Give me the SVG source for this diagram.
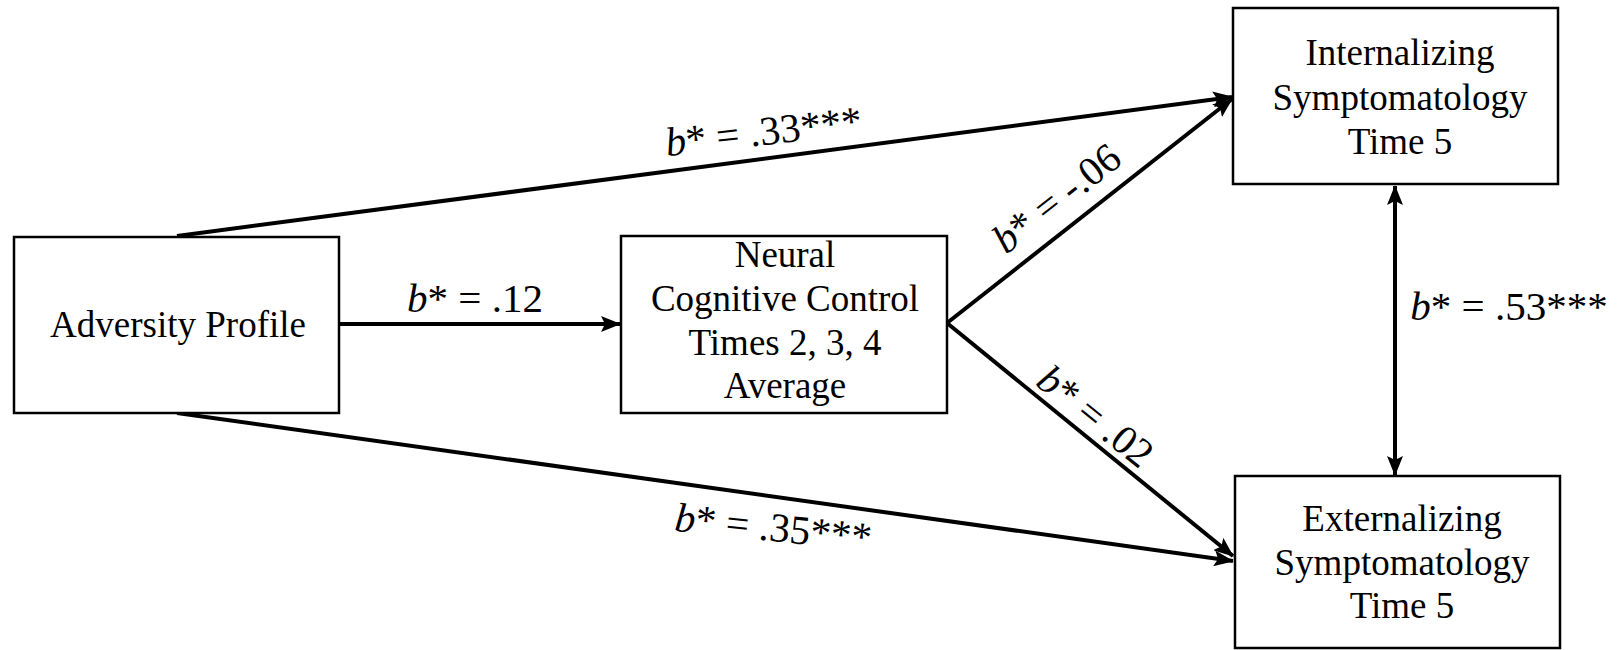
<svg xmlns="http://www.w3.org/2000/svg" width="1623" height="650" viewBox="0 0 1623 650">
<style>
.box{fill:#fff;stroke:#000;stroke-width:2.5}
.nt{font-family:"Liberation Serif","Times New Roman",serif;font-size:37px;fill:#000;text-anchor:middle}
.lb{font-family:"Liberation Serif","Times New Roman",serif;font-size:41px;fill:#000;text-anchor:middle}
.cn{stroke:#000;stroke-width:4;fill:none}
</style>
<defs>
<marker id="ah" markerUnits="userSpaceOnUse" markerWidth="20" markerHeight="16" refX="19" refY="8" orient="auto-start-reverse">
<path d="M0,0 L20,8 L0,16 L4,8 Z" fill="#000"/>
</marker>
</defs>
<rect x="0" y="0" width="1623" height="650" fill="#fff"/>
<g id="connectors">
<line class="cn" x1="339" y1="324" x2="620" y2="324" marker-end="url(#ah)"/>
<line class="cn" x1="177" y1="236" x2="1232" y2="97" marker-end="url(#ah)"/>
<line class="cn" x1="177" y1="413" x2="1233" y2="561" marker-end="url(#ah)"/>
<line class="cn" x1="947" y1="323" x2="1232" y2="99" marker-end="url(#ah)"/>
<line class="cn" x1="947" y1="323" x2="1233" y2="556" marker-end="url(#ah)"/>
<line class="cn" x1="1395" y1="186" x2="1395" y2="475" marker-start="url(#ah)" marker-end="url(#ah)"/>
<text class="lb" x="765" y="145" transform="rotate(-6.5 765 145)"><tspan font-style="italic">b</tspan>* = .33***</text>
<text class="lb" x="475" y="312"><tspan font-style="italic">b</tspan>* = .12</text>
<text class="lb" x="772" y="541" transform="rotate(6 772 541)"><tspan font-style="italic">b</tspan>* = .35***</text>
<text class="lb" x="1065" y="209" transform="rotate(-38 1065 209)"><tspan font-style="italic">b</tspan>* = -.06</text>
<text class="lb" x="1087" y="427" transform="rotate(39 1087 427)"><tspan font-style="italic">b</tspan>* = .02</text>
<text class="lb" x="1509" y="320"><tspan font-style="italic">b</tspan>* = .53***</text>
</g>
<g id="adversity">
<rect class="box" x="14" y="237" width="325" height="176"/>
<text class="nt" x="178" y="337">Adversity Profile</text>
</g>
<g id="neural">
<rect class="box" x="621" y="236" width="326" height="177"/>
<text class="nt" x="785" y="267">Neural</text>
<text class="nt" x="785" y="311">Cognitive Control</text>
<text class="nt" x="785" y="355">Times 2, 3, 4</text>
<text class="nt" x="785" y="398">Average</text>
</g>
<g id="internalizing">
<rect class="box" x="1233" y="8" width="325" height="176"/>
<text class="nt" x="1400" y="65">Internalizing</text>
<text class="nt" x="1400" y="110">Symptomatology</text>
<text class="nt" x="1400" y="154">Time 5</text>
</g>
<g id="externalizing">
<rect class="box" x="1235" y="476" width="325" height="172"/>
<text class="nt" x="1402" y="531">Externalizing</text>
<text class="nt" x="1402" y="575">Symptomatology</text>
<text class="nt" x="1402" y="618">Time 5</text>
</g>
</svg>
